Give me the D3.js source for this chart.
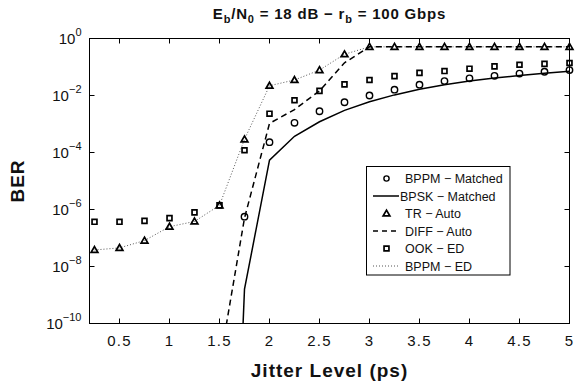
<!DOCTYPE html>
<html>
<head>
<meta charset="utf-8">
<script src="https://cdn.jsdelivr.net/npm/d3@7"></script>
<style>
  body { margin: 0; background: #fff; }
  svg { font-family: 'Liberation Sans', Arial, sans-serif; }
</style>
</head>
<body>
<div id="chart"></div>
<script>
// BER vs jitter level, six detectors. Log y axis, MATLAB-like look.

const jitter = [0.25, 0.5, 0.75, 1, 1.25, 1.5, 1.75, 2, 2.25, 2.5, 2.75,
                3, 3.25, 3.5, 3.75, 4, 4.25, 4.5, 4.75, 5];

// BPPM - Matched (circles), starts at 1.75
const bppmMatchedX = [1.75, 2, 2.25, 2.5, 2.75, 3, 3.25, 3.5, 3.75, 4, 4.25, 4.5, 4.75, 5];
const bppmMatched = [5.6e-7, 2.3e-4, 1.1e-3, 2.8e-3, 5.8e-3, 1.0e-2, 1.6e-2, 2.4e-2,
                     3.2e-2, 4.0e-2, 4.9e-2, 5.9e-2, 6.8e-2, 7.8e-2];

// BPSK - Matched (solid line)
const bpskX = [1.5, 1.75, 2, 2.25, 2.5, 2.75, 3, 3.25, 3.5, 3.75, 4, 4.25, 4.5, 4.75, 5];
const bpsk = [1e-30, 1.6e-9, 5.4e-5, 3.7e-4, 1.2e-3, 3.0e-3, 6.0e-3, 1.05e-2, 1.66e-2,
              2.4e-2, 3.2e-2, 4.1e-2, 5.0e-2, 6.0e-2, 7.1e-2];

// TR - Auto (triangles)
const trAuto = [3.8e-8, 4.5e-8, 8.1e-8, 2.5e-7, 3.8e-7, 1.4e-6, 2.9e-4, 2.2e-2, 3.5e-2,
                7.8e-2, 0.28, 0.51, 0.51, 0.51, 0.51, 0.51, 0.51, 0.51, 0.51, 0.51];

// DIFF - Auto (dashed line)
const diffX = [1.5, 1.75, 2, 2.25, 2.5, 2.75, 3, 3.25, 3.5, 3.75, 4, 4.25, 4.5, 4.75, 5];
const diffAuto = [3.6e-12, 5.0e-7, 1.05e-3, 3.2e-3, 1.45e-2, 0.14, 0.51, 0.51, 0.51,
                  0.51, 0.51, 0.51, 0.51, 0.51, 0.51];

// OOK - ED (squares)
const ookEd = [3.7e-7, 3.7e-7, 4.0e-7, 5.0e-7, 7.9e-7, 1.4e-6, 1.2e-4, 2.3e-3, 6.8e-3,
               1.45e-2, 2.45e-2, 3.5e-2, 4.8e-2, 6.2e-2, 7.2e-2, 8.7e-2, 0.105, 0.12, 0.129, 0.138];

// BPPM - ED (dotted line)
const bppmEd = [3.8e-8, 4.5e-8, 8.1e-8, 2.5e-7, 3.8e-7, 1.4e-6, 2.9e-4, 2.2e-2, 3.5e-2,
                7.8e-2, 0.28, 0.51, 0.51, 0.51, 0.51, 0.51, 0.51, 0.51, 0.51, 0.51];

const xTicks = [0.5, 1, 1.5, 2, 2.5, 3, 3.5, 4, 4.5, 5];
const yTickExps = [0, -2, -4, -6, -8, -10];

const W = 577, H = 385;
const M = { left: 89.5, right: 7.5, top: 38.5, bottom: 61.5 };
const innerW = W - M.left - M.right;
const innerH = H - M.top - M.bottom;

const x = d3.scaleLinear().domain([0.2, 5]).range([0, innerW]);
const y = d3.scaleLog().domain([1e-10, 1]).range([innerH, 0]);

const svg = d3.select('#chart').append('svg')
  .attr('width', W).attr('height', H)
  .attr('viewBox', `0 0 ${W} ${H}`);

svg.append('defs').append('clipPath').attr('id', 'plot-clip')
  .append('rect').attr('width', innerW).attr('height', innerH);

const g = svg.append('g').attr('transform', `translate(${M.left},${M.top})`);

// Axes box + inward ticks
g.append('rect')
  .attr('width', innerW).attr('height', innerH)
  .attr('fill', '#fff').attr('stroke', '#000').attr('stroke-width', 1);

const TICK = 5;
xTicks.forEach(t => {
  const px = x(t);
  g.append('line').attr('x1', px).attr('x2', px).attr('y1', innerH).attr('y2', innerH - TICK)
    .attr('stroke', '#000');
  g.append('line').attr('x1', px).attr('x2', px).attr('y1', 0).attr('y2', TICK)
    .attr('stroke', '#000');
  g.append('text')
    .attr('x', px).attr('y', innerH + 22.5)
    .attr('text-anchor', 'middle').attr('font-size', 15).attr('fill', '#111')
    .attr('letter-spacing', 1.2)
    .text(t);
});

yTickExps.forEach(e => {
  const py = y(Math.pow(10, e));
  g.append('line').attr('x1', 0).attr('x2', TICK).attr('y1', py).attr('y2', py)
    .attr('stroke', '#000');
  g.append('line').attr('x1', innerW).attr('x2', innerW - TICK).attr('y1', py).attr('y2', py)
    .attr('stroke', '#000');
  const tx = g.append('text')
    .attr('x', -8).attr('y', py + 5.5)
    .attr('text-anchor', 'end').attr('font-size', 15).attr('fill', '#111');
  tx.append('tspan').text('10');
  tx.append('tspan').attr('dy', -8).attr('font-size', 11).text(e === 0 ? '0' : '\u2212' + (-e));
});

// Lines
const lineGen = d3.line()
  .x(d => x(d[0]))
  .y(d => y(d[1]));

const lines = g.append('g').attr('clip-path', 'url(#plot-clip)');

lines.append('path')
  .datum(jitter.map((j, i) => [j, bppmEd[i]]))
  .attr('d', lineGen)
  .attr('fill', 'none').attr('stroke', '#555')
  .attr('stroke-width', 1).attr('stroke-dasharray', '1,2');

lines.append('path')
  .datum(diffX.map((j, i) => [j, diffAuto[i]]))
  .attr('d', lineGen)
  .attr('fill', 'none').attr('stroke', '#000')
  .attr('stroke-width', 1.5).attr('stroke-dasharray', '6,4');

lines.append('path')
  .datum(bpskX.map((j, i) => [j, bpsk[i]]))
  .attr('d', lineGen)
  .attr('fill', 'none').attr('stroke', '#000')
  .attr('stroke-width', 1.5);

// Markers
const triSym = d3.symbol().type(d3.symbolTriangle).size(20);
const sqSym = d3.symbol().type(d3.symbolSquare).size(24);

g.append('g').selectAll('path')
  .data(jitter.map((j, i) => [j, trAuto[i]]))
  .enter().append('path')
  .attr('transform', d => `translate(${x(d[0])},${y(d[1]) + 0.5})`)
  .attr('d', triSym)
  .attr('fill', 'none').attr('stroke', '#000').attr('stroke-width', 1.7);

g.append('g').selectAll('path')
  .data(jitter.map((j, i) => [j, ookEd[i]]))
  .enter().append('path')
  .attr('transform', d => `translate(${x(d[0])},${y(d[1])})`)
  .attr('d', sqSym)
  .attr('fill', 'none').attr('stroke', '#000').attr('stroke-width', 1.7);

g.append('g').selectAll('circle')
  .data(bppmMatchedX.map((j, i) => [j, bppmMatched[i]]))
  .enter().append('circle')
  .attr('cx', d => x(d[0])).attr('cy', d => y(d[1]))
  .attr('r', 3.2)
  .attr('fill', 'none').attr('stroke', '#000').attr('stroke-width', 1.4);

// Legend
const legend = [
  { label: 'BPPM \u2212 Matched', kind: 'circle' },
  { label: 'BPSK \u2212 Matched', kind: 'solid' },
  { label: 'TR \u2212 Auto', kind: 'tri' },
  { label: 'DIFF \u2212 Auto', kind: 'dash' },
  { label: 'OOK \u2212 ED', kind: 'square' },
  { label: 'BPPM \u2212 ED', kind: 'dot' },
];

const lg = svg.append('g').attr('transform', 'translate(366.5,166.5)');
lg.append('rect')
  .attr('width', 143.5).attr('height', 108.5)
  .attr('fill', '#fff').attr('stroke', '#000').attr('stroke-width', 1);

legend.forEach((d, i) => {
  const cy = 12 + i * 17.5;
  const row = lg.append('g').attr('transform', `translate(0,${cy})`);
  if (d.kind === 'circle') {
    row.append('circle').attr('cx', 20).attr('cy', 0).attr('r', 2.6)
      .attr('fill', 'none').attr('stroke', '#000').attr('stroke-width', 1.4);
  } else if (d.kind === 'tri') {
    row.append('path').attr('transform', 'translate(20,0.5)').attr('d', triSym)
      .attr('fill', 'none').attr('stroke', '#000').attr('stroke-width', 1.7);
  } else if (d.kind === 'square') {
    row.append('path').attr('transform', 'translate(20,0)').attr('d', sqSym)
      .attr('fill', 'none').attr('stroke', '#000').attr('stroke-width', 1.7);
  } else {
    const ln = row.append('line').attr('x1', 6.5).attr('x2', 32.5).attr('y1', 0).attr('y2', 0)
      .attr('stroke', d.kind === 'dot' ? '#555' : '#000');
    if (d.kind === 'solid') ln.attr('stroke-width', 1.5);
    if (d.kind === 'dash') ln.attr('stroke-width', 1.5).attr('stroke-dasharray', '5,4');
    if (d.kind === 'dot') ln.attr('stroke-width', 1).attr('stroke-dasharray', '1,2');
  }
  row.append('text')
    .attr('x', d.kind === 'solid' ? 33.5 : 38.5).attr('y', 4.5)
    .attr('font-size', 12.5).attr('fill', '#111')
    .text(d.label);
});

// Title
const title = svg.append('text')
  .attr('x', M.left + innerW / 2).attr('y', 18.5)
  .attr('text-anchor', 'middle')
  .attr('font-size', 15).attr('font-weight', 'bold').attr('fill', '#111')
  .attr('letter-spacing', 0.8);
title.append('tspan').text('E');
title.append('tspan').attr('font-size', 11).attr('dy', 4.5).text('b');
title.append('tspan').attr('dy', -4.5).text('/N');
title.append('tspan').attr('font-size', 11).attr('dy', 4.5).text('0');
title.append('tspan').attr('dy', -4.5).text(' = 18 dB \u2212 r');
title.append('tspan').attr('font-size', 11).attr('dy', 4.5).text('b');
title.append('tspan').attr('dy', -4.5).text(' = 100 Gbps');

// Axis labels
svg.append('text')
  .attr('x', M.left + innerW / 2).attr('y', 376.5)
  .attr('text-anchor', 'middle')
  .attr('font-size', 19).attr('font-weight', 'bold').attr('fill', '#111')
  .attr('letter-spacing', 1)
  .text('Jitter Level (ps)');

svg.append('text')
  .attr('transform', `translate(24,${M.top + innerH / 2}) rotate(-90)`)
  .attr('text-anchor', 'middle')
  .attr('font-size', 19).attr('font-weight', 'bold').attr('fill', '#111')
  .attr('letter-spacing', 1)
  .text('BER');
</script>
</body>
</html>
